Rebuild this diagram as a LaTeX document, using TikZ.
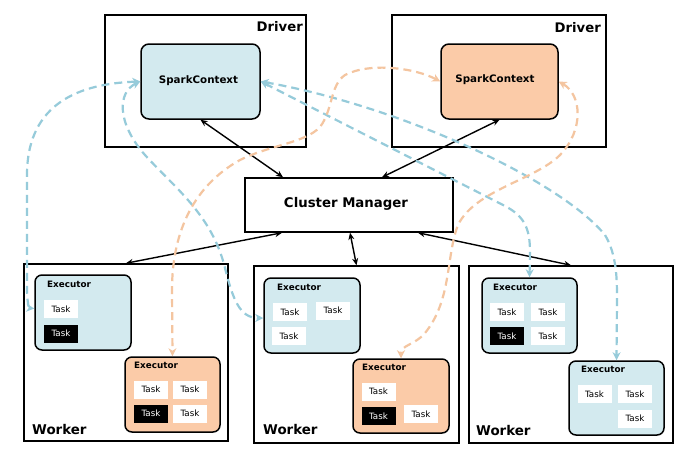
\documentclass[tikz,border=0pt]{standalone}
\usepackage{fontspec}
\setmainfont{DejaVu Sans}
\usetikzlibrary{arrows.meta}
\definecolor{sblue}{HTML}{D3EAEF}
\definecolor{sorange}{HTML}{FBCBA8}
\definecolor{dblue}{HTML}{96CBDA}
\definecolor{dorange}{HTML}{F4C5A0}
\tikzset{
  outerbox/.style={draw=black, line width=1.5pt, inner sep=0pt},
  ctxbox/.style={draw=black, line width=1.5pt, rounded corners=8pt, inner sep=0pt, minimum width=118pt, minimum height=75pt},
  execbox/.style={draw=black, line width=1.5pt, rounded corners=7pt, inner sep=0pt, minimum width=95pt, minimum height=75pt},
  bexec/.style={execbox, fill=sblue},
  oexec/.style={execbox, fill=sorange},
  task/.style={fill=white, minimum width=34pt, minimum height=18pt, inner sep=0pt, font=\fontsize{8.7}{10}\selectfont},
  btask/.style={task, fill=black, text=white},
  execlabel/.style={anchor=west, inner sep=0pt, font=\bfseries\fontsize{8.8}{10}\selectfont},
  bigtitle/.style={inner sep=0pt, font=\bfseries\fontsize{13.2}{15}\selectfont},
  ctl/.style={arrows={Stealth[length=7pt,width=6pt]-Stealth[length=7pt,width=6pt]}, line width=1.4pt},
  bluedash/.style={draw=dblue, line width=2.2pt, dash pattern=on 8pt off 5pt, arrows={Stealth[length=8pt,width=8pt,inset=2.5pt]-Stealth[length=8pt,width=8pt,inset=2.5pt]}},
  orangedash/.style={draw=dorange, line width=2.2pt, dash pattern=on 8pt off 5pt, arrows={Stealth[length=8pt,width=8pt,inset=2.5pt]-Stealth[length=8pt,width=8pt,inset=2.5pt]}}
}
\begin{document}
\begin{tikzpicture}[x=1pt,y=-1pt]
\useasboundingbox[fill=white] (0,0) rectangle (691,456);

% Drivers
\node[outerbox, minimum width=201pt, minimum height=132pt] (d1) at (205.5,81) {};
\node[outerbox, minimum width=214pt, minimum height=132pt] (d2) at (499,81) {};
\node[bigtitle, anchor=east] (d1t) at (303,27) {Driver};
\node[bigtitle, anchor=east] (d2t) at (601,28) {Driver};
\node[ctxbox, fill=sblue, minimum width=119pt] (sc1) at (200.5,81.5) {};
\node[ctxbox, fill=sorange, minimum width=117pt] (sc2) at (499.5,81.5) {};
\node[inner sep=0pt, font=\bfseries\fontsize{10.3}{12}\selectfont] (sc1t) at (198.5,81) {SparkContext};
\node[inner sep=0pt, font=\bfseries\fontsize{10.3}{12}\selectfont] (sc2t) at (495,80) {SparkContext};

% Cluster manager
\node[outerbox, minimum width=208pt, minimum height=54pt] (cm) at (349,205) {};
\node[bigtitle, font=\bfseries\fontsize{13.3}{15}\selectfont] (cmt) at (346,204) {Cluster Manager};

% Workers
\node[outerbox, minimum width=204pt, minimum height=177pt] (w1) at (126,352.5) {};
\node[outerbox, minimum width=205pt, minimum height=177pt] (w2) at (356.5,354.5) {};
\node[outerbox, minimum width=204pt, minimum height=177pt] (w3) at (571,354.5) {};
\node[bigtitle, font=\bfseries\fontsize{13.4}{15}\selectfont, anchor=west] (w1t) at (32,429) {Worker};
\node[bigtitle, font=\bfseries\fontsize{13.4}{15}\selectfont, anchor=west] (w2t) at (263,429) {Worker};
\node[bigtitle, font=\bfseries\fontsize{13.4}{15}\selectfont, anchor=west] (w3t) at (476,430) {Worker};

% Executors
\node[bexec, minimum width=96pt] (e1a) at (83,312.5) {};
\node[oexec] (e1b) at (172.5,394.5) {};
\node[bexec, minimum width=96pt] (e2a) at (312,315.5) {};
\node[oexec, minimum width=96pt, minimum height=74pt] (e2b) at (401,396) {};
\node[bexec] (e3a) at (529.5,315.5) {};
\node[bexec, minimum height=74pt] (e3b) at (616.5,398) {};

\node[execlabel] (e1al) at (47,284) {Executor};
\node[execlabel] (e1bl) at (134,365) {Executor};
\node[execlabel] (e2al) at (277,287) {Executor};
\node[execlabel] (e2bl) at (362,367) {Executor};
\node[execlabel] (e3al) at (493,287) {Executor};
\node[execlabel] (e3bl) at (581,369) {Executor};

% Tasks
\node[task] (t1) at (61,309) {Task};
\node[btask] (t2) at (61,333.5) {Task};
\node[task] (t3) at (151,389.5) {Task};
\node[task] (t4) at (190,389.5) {Task};
\node[btask] (t5) at (151,413.5) {Task};
\node[task] (t6) at (190,413.5) {Task};
\node[task] (t7) at (290,312) {Task};
\node[task] (t8) at (333,310.5) {Task};
\node[task] (t9) at (289,336) {Task};
\node[task] (t10) at (378.5,391.5) {Task};
\node[btask] (t11) at (378.5,416) {Task};
\node[task] (t12) at (421,414) {Task};
\node[task] (t13) at (507,312) {Task};
\node[task] (t14) at (548,312) {Task};
\node[btask] (t15) at (507,336) {Task};
\node[task] (t16) at (548,336) {Task};
\node[task] (t17) at (594.5,394) {Task};
\node[task] (t18) at (635,394) {Task};
\node[task] (t19) at (635,418.5) {Task};

% Control arrows
\draw[ctl] (sc1.south) -- ([xshift=-66pt]cm.north);
\draw[ctl] (sc2.south) -- ([xshift=33pt]cm.north);
\draw[ctl] ([xshift=-67pt]cm.south) -- (w1.north);
\draw[ctl] ([xshift=1pt]cm.south) -- (w2.north);
\draw[ctl] ([xshift=69pt]cm.south) -- (w3.north);

% Blue dashed connections
\draw[bluedash] (sc1.west) .. controls (70,84) and (27,110) .. (27,175) -- (27,288) .. controls (27,302) and (29,308) .. ([yshift=4pt]e1a.west);
\draw[bluedash] (sc1.west) .. controls (118,92) and (116,122) .. (145,155) .. controls (175,188) and (212,215) .. (225,268) .. controls (233,300) and (240,318) .. ([yshift=-2.5pt]e2a.west);
\draw[bluedash] (sc1.east) -- (505,206) .. controls (524,216) and (530,228) .. (530,252) -- (e3a.north);
\draw[bluedash] (sc1.east) .. controls (400,106) and (560,180) .. (605,235) .. controls (617,255) and (617,280) .. (617,300) -- (e3b.north);

% Orange dashed connections
\draw[orangedash] (sc2.west) .. controls (415,68) and (370,62) .. (345,75) .. controls (330,85) and (333,110) .. (320,127) .. controls (305,143) and (270,145) .. (240,160) .. controls (195,185) and (172,230) .. (172,290) -- (e1b.north);
\draw[orangedash] (sc2.east) .. controls (582,95) and (584,130) .. (560,155) .. controls (535,180) and (475,190) .. (458,225) .. controls (446,255) and (452,300) .. (425,333) .. controls (415,345) and (401,345) .. (e2b.north);
\end{tikzpicture}
\end{document}
